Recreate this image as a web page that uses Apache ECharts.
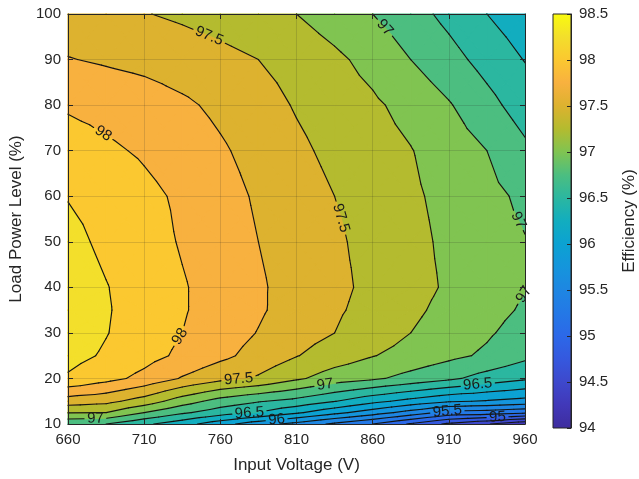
<!DOCTYPE html>
<html>
<head>
<meta charset="utf-8">
<script src="https://cdn.jsdelivr.net/npm/echarts@6/dist/echarts.min.js"></script>
<style>html,body{margin:0;padding:0;background:#fff}#c{width:639px;height:479px}</style>
</head>
<body>
<div id="c"></div>
<script>
// ---- data ----
const voltages = [660, 685, 710, 735, 760, 785, 810, 835, 860, 885, 910, 935, 960];
const loads = [10, 12.5, 15, 20, 25, 30, 35, 40, 50, 60, 70, 80, 90, 100];
const effLoad10   = [96.80, 96.75, 96.55, 96.35, 96.10, 95.85, 95.67, 95.45, 95.25, 94.97, 94.70, 94.52, 94.30];
const effLoad12_5 = [97.26, 97.25, 97.00, 96.79, 96.62, 96.49, 96.29, 96.07, 95.87, 95.65, 95.42, 95.38, 95.30];
const effLoad15   = [97.63, 97.57, 97.39, 97.12, 96.90, 96.77, 96.67, 96.51, 96.32, 96.17, 96.03, 95.98, 95.91];
const effLoad20   = [98.22, 98.08, 97.93, 97.73, 97.57, 97.47, 97.29, 97.13, 97.04, 96.92, 96.80, 96.65, 96.54];
const effLoad25   = [98.33, 98.22, 98.09, 97.95, 97.81, 97.66, 97.51, 97.38, 97.26, 97.16, 97.06, 96.96, 96.81];
const effLoad30   = [98.38, 98.26, 98.13, 98.00, 97.87, 97.74, 97.60, 97.50, 97.38, 97.25, 97.13, 97.03, 96.90];
const effLoad35   = [98.40, 98.27, 98.14, 98.02, 97.90, 97.78, 97.65, 97.53, 97.43, 97.30, 97.18, 97.08, 96.97];
const effLoad40   = [98.38, 98.26, 98.14, 98.02, 97.90, 97.78, 97.66, 97.55, 97.45, 97.33, 97.22, 97.11, 97.01];
const effLoad50   = [98.32, 98.20, 98.10, 97.98, 97.87, 97.75, 97.64, 97.53, 97.44, 97.32, 97.20, 97.10, 97.01];
const effLoad60   = [98.24, 98.16, 98.06, 97.96, 97.84, 97.72, 97.61, 97.50, 97.42, 97.29, 97.18, 97.07, 96.95];
const effLoad70   = [98.12, 98.04, 97.97, 97.88, 97.78, 97.67, 97.55, 97.44, 97.35, 97.26, 97.13, 97.00, 96.80];
const effLoad80   = [97.97, 97.92, 97.87, 97.79, 97.70, 97.60, 97.48, 97.38, 97.29, 97.17, 97.02, 96.83, 96.63];
const effLoad90   = [97.76, 97.72, 97.68, 97.63, 97.57, 97.50, 97.41, 97.30, 97.17, 97.00, 96.84, 96.66, 96.49];
const effLoad100  = [97.62, 97.56, 97.51, 97.46, 97.40, 97.33, 97.25, 97.13, 97.00, 96.85, 96.68, 96.50, 96.35];
const efficiency = [effLoad10, effLoad12_5, effLoad15, effLoad20, effLoad25, effLoad30, effLoad35,
                    effLoad40, effLoad50, effLoad60, effLoad70, effLoad80, effLoad90, effLoad100];

// contour levels (filled band edges and drawn lines)
const bandLevels = [94, 94.25, 94.5, 94.75, 95, 95.25, 95.5, 95.75, 96, 96.25, 96.5, 96.75,
                    97, 97.25, 97.5, 97.75, 98, 98.25, 98.5];
const lineLevels = [94.25, 94.5, 94.75, 95, 95.25, 95.5, 95.75, 96, 96.25, 96.5, 96.75,
                    97, 97.25, 97.5, 97.75, 98, 98.25];
// contour labels: level, voltage hint, load hint
const labelLevels = [97.5, 97, 98, 97.5, 97, 97, 98, 97.5, 97, 96.5, 97, 96.5, 96, 95.5, 95];
const labelHintV  = [753, 868, 683, 837, 955, 957, 734, 772, 829, 929, 678, 779, 797, 909, 942];
const labelHintL  = [95.4, 97, 73.7, 55, 54.6, 38.9, 29.1, 19.8, 18.3, 18.7, 10.9, 12.8, 10.7, 12.8, 11.1];

// ---- style ----
const FONT = '"Liberation Sans", Arial, Helvetica, sans-serif';
const TXT = '#262626';
const cmap = ['#3E2C9E', '#4138B8', '#3E48CC', '#3558DE', '#2C68E8', '#2478E6', '#1E86E2', '#1595DC',
              '#0CA2D2', '#12ADBF', '#2BB7A0', '#4CBE80', '#80C451', '#B4BB2F', '#DDB22F', '#F8B13F',
              '#FBC830', '#F3DF2B', '#F9FB0E'];
const LABEL_FS = 15;

const measureCtx = document.createElement('canvas').getContext('2d');
measureCtx.font = LABEL_FS + 'px ' + FONT;

function bandIndex(v) {
  let k = 0;
  while (k < bandLevels.length - 1 && v >= bandLevels[k + 1]) k++;
  return k;
}
function clipPoly(poly, lev, keepAbove) {
  const out = [];
  for (let i = 0; i < poly.length; i++) {
    const a = poly[i], b = poly[(i + 1) % poly.length];
    const ina = keepAbove ? a.v >= lev : a.v <= lev;
    const inb = keepAbove ? b.v >= lev : b.v <= lev;
    if (ina) out.push(a);
    if (ina !== inb) {
      const t = (lev - a.v) / (b.v - a.v);
      out.push({x: a.x + t * (b.x - a.x), y: a.y + t * (b.y - a.y), v: lev});
    }
  }
  return out;
}
function cutSegment(s, lab) {
  const c = Math.cos(lab.ang), sn = Math.sin(lab.ang);
  const loc = (x, y) => { const dx = x - lab.x, dy = y - lab.y; return [dx * c + dy * sn, -dx * sn + dy * c]; };
  const p = loc(s[0], s[1]), q = loc(s[2], s[3]);
  let t0 = 0, t1 = 1;
  const dx = q[0] - p[0], dy = q[1] - p[1];
  const checks = [[-dx, p[0] + lab.hw], [dx, lab.hw - p[0]], [-dy, p[1] + lab.hh], [dy, lab.hh - p[1]]];
  for (const [pp, qq] of checks) {
    if (Math.abs(pp) < 1e-12) { if (qq < 0) return [s]; }
    else {
      const r = qq / pp;
      if (pp < 0) { if (r > t1) return [s]; if (r > t0) t0 = r; }
      else { if (r < t0) return [s]; if (r < t1) t1 = r; }
    }
  }
  const out = [];
  const lerp = t => [s[0] + t * (s[2] - s[0]), s[1] + t * (s[3] - s[1])];
  if (t0 > 1e-6) { const e = lerp(t0); out.push([s[0], s[1], e[0], e[1]]); }
  if (t1 < 1 - 1e-6) { const e = lerp(t1); out.push([e[0], e[1], s[2], s[3]]); }
  return out;
}

function renderContour(params, api) {
  const nR = loads.length, nC = voltages.length;
  const P = [];
  for (let i = 0; i < nR; i++) {
    P.push([]);
    for (let j = 0; j < nC; j++) {
      const c = api.coord([voltages[j], loads[i]]);
      P[i].push({x: c[0], y: c[1], v: efficiency[i][j]});
    }
  }
  const fills = [];
  const segs = {};
  lineLevels.forEach(l => { segs[l] = []; });
  for (let i = 0; i < nR - 1; i++) {
    for (let j = 0; j < nC - 1; j++) {
      const a = P[i][j], b = P[i][j + 1], c = P[i + 1][j + 1], d = P[i + 1][j];
      const m = {x: (a.x + b.x + c.x + d.x) / 4, y: (a.y + b.y + c.y + d.y) / 4, v: (a.v + b.v + c.v + d.v) / 4};
      const tris = [[a, b, m], [b, c, m], [c, d, m], [d, a, m]];
      for (const tri of tris) {
        const vs = tri.map(p => p.v);
        const mn = Math.min(...vs), mx = Math.max(...vs);
        const k0 = bandIndex(mn), k1 = bandIndex(mx);
        for (let k = k0; k <= k1; k++) {
          let poly = tri;
          if (k > 0) poly = clipPoly(poly, bandLevels[k], true);
          if (k < bandLevels.length - 1 && poly.length) poly = clipPoly(poly, bandLevels[k + 1], false);
          if (poly.length >= 3) {
            fills.push({type: 'polygon', shape: {points: poly.map(p => [p.x, p.y])},
              style: {fill: cmap[k], stroke: cmap[k], lineWidth: 1.1, lineJoin: 'round'}});
          }
        }
        for (const lev of lineLevels) {
          if (lev <= mn || lev > mx) continue;
          const pts = [];
          for (let e = 0; e < 3; e++) {
            const p = tri[e], q = tri[(e + 1) % 3];
            if ((p.v >= lev) !== (q.v >= lev)) {
              const t = (lev - p.v) / (q.v - p.v);
              pts.push([p.x + t * (q.x - p.x), p.y + t * (q.y - p.y)]);
            }
          }
          if (pts.length === 2) segs[lev].push([pts[0][0], pts[0][1], pts[1][0], pts[1][1]]);
        }
      }
    }
  }
  // labels
  const labels = [];
  for (let n = 0; n < labelLevels.length; n++) {
    const lev = labelLevels[n];
    const hint = api.coord([labelHintV[n], labelHintL[n]]);
    let best = null, bd = Infinity;
    for (const s of segs[lev]) {
      const dx = s[2] - s[0], dy = s[3] - s[1];
      const L2 = dx * dx + dy * dy || 1e-9;
      let t = ((hint[0] - s[0]) * dx + (hint[1] - s[1]) * dy) / L2;
      t = Math.max(0, Math.min(1, t));
      const px = s[0] + t * dx, py = s[1] + t * dy;
      const dd = (px - hint[0]) ** 2 + (py - hint[1]) ** 2;
      if (dd < bd) { bd = dd; best = {x: px, y: py, dx, dy}; }
    }
    if (!best) continue;
    let ang = Math.atan2(best.dy, best.dx);
    if (ang > Math.PI / 2 + 1e-9) ang -= Math.PI;
    if (ang <= -Math.PI / 2) ang += Math.PI;
    const txt = String(lev);
    const w = measureCtx.measureText(txt).width;
    labels.push({x: best.x, y: best.y, ang, lev, txt, hw: w / 2 + 3, hh: LABEL_FS * 0.45});
  }
  const lines = [];
  for (const lev of lineLevels) {
    let list = segs[lev];
    for (const lab of labels) {
      if (lab.lev !== lev) continue;
      const next = [];
      for (const s of list) next.push(...cutSegment(s, lab));
      list = next;
    }
    for (const s of list) {
      lines.push({type: 'line', shape: {x1: s[0], y1: s[1], x2: s[2], y2: s[3]},
        style: {stroke: '#141414', lineWidth: 1.15, lineCap: 'round'}});
    }
  }
  const texts = labels.map(lab => ({
    type: 'text', x: lab.x, y: lab.y, rotation: -lab.ang,
    style: {text: lab.txt, fill: '#1a1a1a', fontSize: LABEL_FS, fontFamily: FONT, align: 'center', verticalAlign: 'middle'}
  }));
  return {type: 'group', children: fills.concat(lines, texts)};
}

function renderColorbar(params, api) {
  const tl = api.coord([0, bandLevels[bandLevels.length - 1]]);
  const br = api.coord([1, bandLevels[0]]);
  const stops = cmap.map((c, k) => ({offset: k / (cmap.length - 1), color: c}));
  return {type: 'rect', shape: {x: tl[0], y: tl[1], width: br[0] - tl[0], height: br[1] - tl[1]},
    style: {fill: new echarts.graphic.LinearGradient(0, 1, 0, 0, stops), stroke: TXT, lineWidth: 1}};
}

const axisLine = {show: true, onZero: false, lineStyle: {color: TXT, width: 1}};
const tick = {show: true, inside: true, length: 5, lineStyle: {color: TXT, width: 1}};
const lbl = {color: TXT, fontSize: 15, fontFamily: FONT};
const nameStyle = {color: TXT, fontSize: 17, fontFamily: FONT};
const split = {show: true, lineStyle: {color: 'rgba(38,38,38,0.16)', width: 1}};

const chart = echarts.init(document.getElementById('c'), null, {renderer: 'canvas'});
chart.setOption({
  animation: false,
  backgroundColor: '#ffffff',
  grid: [
    {left: 68, right: 114, top: 14, bottom: 51},
    {left: 553, width: 23, top: 14, bottom: 51}
  ],
  xAxis: [
    {type: 'value', gridIndex: 0, min: 660, max: 960, interval: 50, position: 'bottom', z: 10,
     axisLine, axisTick: tick, axisLabel: Object.assign({margin: 8}, lbl), splitLine: split,
     name: 'Input Voltage (V)', nameLocation: 'middle', nameGap: 33, nameTextStyle: nameStyle},
    {type: 'value', gridIndex: 0, min: 660, max: 960, interval: 50, position: 'top', z: 10,
     axisLine, axisTick: tick, axisLabel: {show: false}, splitLine: {show: false}},
    {type: 'value', gridIndex: 1, min: 0, max: 1, show: false}
  ],
  yAxis: [
    {type: 'value', gridIndex: 0, min: 10, max: 100, interval: 10, position: 'left', z: 10,
     axisLine, axisTick: tick, axisLabel: Object.assign({margin: 7}, lbl), splitLine: split,
     name: 'Load Power Level (%)', nameLocation: 'middle', nameGap: 39, nameTextStyle: nameStyle},
    {type: 'value', gridIndex: 0, min: 10, max: 100, interval: 10, position: 'right', z: 10,
     axisLine, axisTick: tick, axisLabel: {show: false}, splitLine: {show: false}},
    {type: 'value', gridIndex: 1, min: 94, max: 98.5, interval: 0.5, position: 'right', z: 10,
     axisLine, axisTick: {show: true, inside: true, length: 4, lineStyle: {color: TXT}},
     axisLabel: Object.assign({margin: 8}, lbl), splitLine: {show: false},
     name: 'Efficiency (%)', nameLocation: 'middle', nameRotate: 90, nameGap: 50, nameTextStyle: nameStyle}
  ],
  series: [
    {type: 'custom', xAxisIndex: 0, yAxisIndex: 0, data: [[voltages[0], loads[0]]],
     renderItem: renderContour, silent: true, z: 2},
    {type: 'custom', xAxisIndex: 2, yAxisIndex: 2, data: [[0, bandLevels[0]]],
     renderItem: renderColorbar, silent: true, z: 2}
  ]
});
</script>
</body>
</html>
